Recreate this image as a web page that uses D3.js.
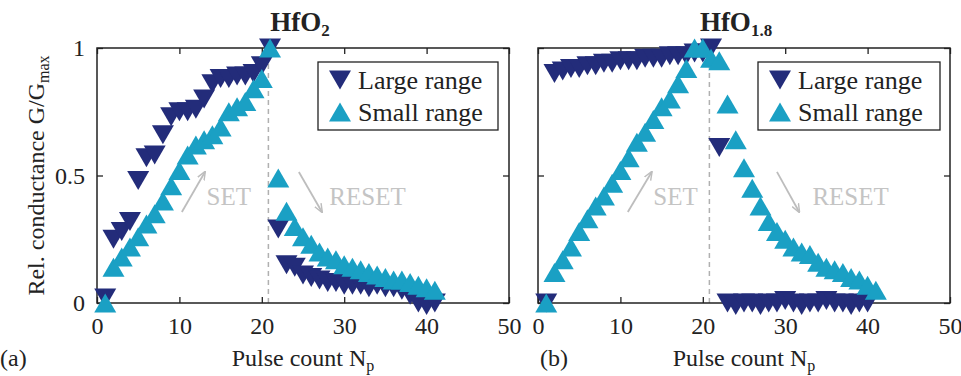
<!DOCTYPE html>
<html>
<head>
<meta charset="utf-8">
<script src="https://cdn.jsdelivr.net/npm/d3@7"></script>
<style>
  body { margin: 0; background: #fff; }
  svg { display: block; }
  text { font-family: "Liberation Serif", "Times New Roman", serif; }
</style>
</head>
<body>
<svg id="chart" width="961" height="376"></svg>
<script>
// ---------------- DATA ----------------
const xTicks = [0, 10, 20, 30, 40, 50];
const yTicks = [0, 0.5, 1];
const yTickLabels = ["0", "0.5", "1"];
const seriesNames = ["Large range", "Small range"];
const panelTitles = ["HfO2", "HfO1.8"];
const panelLetters = ["(a)", "(b)"];

// HfO2, pulse 1..41
const hfo2Large = [0.02, 0.25, 0.28, 0.32, 0.48, 0.57, 0.58, 0.66, 0.73, 0.75, 0.75, 0.76, 0.80, 0.86, 0.88, 0.88, 0.89, 0.89, 0.90, 0.93, 1.00,
                   0.29, 0.15, 0.14, 0.11, 0.10, 0.09, 0.08, 0.08, 0.07, 0.07, 0.07, 0.06, 0.07, 0.06, 0.06, 0.05, 0.03, 0.00, -0.01, 0.00];
const hfo2Small = [0.00, 0.14, 0.18, 0.22, 0.26, 0.31, 0.35, 0.40, 0.46, 0.52, 0.58, 0.62, 0.64, 0.66, 0.69, 0.75, 0.77, 0.79, 0.84, 0.88, 1.00,
                   0.49, 0.36, 0.30, 0.26, 0.23, 0.20, 0.18, 0.17, 0.15, 0.14, 0.13, 0.12, 0.11, 0.10, 0.09, 0.09, 0.08, 0.07, 0.06, 0.05];
// HfO1.8, pulse 1..40 (large) and 1..41 (small)
const hfo18Large = [0.00, 0.90, 0.91, 0.92, 0.92, 0.93, 0.93, 0.94, 0.94, 0.95, 0.95, 0.95, 0.96, 0.96, 0.96, 0.97, 0.97, 0.97, 0.98, 0.98, 1.00,
                    0.61, 0.00, -0.01, 0.00, 0.00, -0.01, 0.00, 0.00, 0.01, 0.00, -0.01, 0.00, 0.00, 0.01, 0.00, 0.00, -0.01, 0.00, 0.00];
const hfo18Small = [0.00, 0.12, 0.17, 0.22, 0.28, 0.33, 0.38, 0.42, 0.47, 0.52, 0.57, 0.63, 0.67, 0.72, 0.77, 0.80, 0.86, 0.92, 1.00, 1.00, 0.96,
                    0.95, 0.78, 0.64, 0.53, 0.45, 0.38, 0.32, 0.28, 0.25, 0.22, 0.20, 0.19, 0.16, 0.14, 0.13, 0.12, 0.10, 0.09, 0.07, 0.05];

const switchPulse = 20.8;           // dashed line
// annotation arrows [x1,y1,x2,y2] in data units, text anchor [x,y]
const setArrows   = [[10.3, 0.357, 13.1, 0.514], [10.9, 0.357, 13.8, 0.514]];
const resetArrows = [[24.5, 0.514, 27.3, 0.357], [29.0, 0.514, 31.7, 0.357]];
const setText     = [[13.3, 0.384], [14.0, 0.384]];
const resetText   = [[28.2, 0.384], [33.3, 0.384]];

// ---------------- STYLE / LAYOUT ----------------
const navy = "#232c7a";
const teal = "#1aa0c4";
const grey = "#bdbdbd";
const panels = [
  { left: 97, right: 509, large: hfo2Large, small: hfo2Small, titleX: 300, legendX: 318, legendW: 180, letterX: 0, showYLabels: true },
  { left: 538, right: 950, large: hfo18Large, small: hfo18Small, titleX: 736, legendX: 758, legendW: 182, letterX: 540, showYLabels: false }
];
const plotTop = 48, plotBottom = 303;

const svg = d3.select("#chart");
svg.append("rect").attr("width", 961).attr("height", 376).attr("fill", "#fff");

const defs = svg.append("defs");
defs.append("marker").attr("id", "ah").attr("viewBox", "0 0 10 10").attr("refX", 9).attr("refY", 5)
  .attr("markerWidth", 5).attr("markerHeight", 5).attr("orient", "auto")
  .append("path").attr("d", "M0,1 L10,5 L0,9").attr("fill", "none").attr("stroke", grey).attr("stroke-width", 1.6);

const W = 22, H = 19;
const downTri = `M${-W/2},${-H/2}L${W/2},${-H/2}L0,${H/2}Z`;
const upTri = `M${-W/2},${H/2}L${W/2},${H/2}L0,${-H/2}Z`;

const y = d3.scaleLinear().domain([0, 1]).range([plotBottom, plotTop]);

panels.forEach((p, pi) => {
  const x = d3.scaleLinear().domain([0, 50]).range([p.left, p.right]);
  const g = svg.append("g");

  // dashed line
  g.append("line").attr("x1", x(switchPulse)).attr("x2", x(switchPulse))
    .attr("y1", y(0)).attr("y2", y(1))
    .attr("stroke", "#b0b0b0").attr("stroke-width", 1.5).attr("stroke-dasharray", "5,4");

  // arrows and texts
  const sa = setArrows[pi], ra = resetArrows[pi];
  [sa, ra].forEach(a => {
    g.append("line").attr("x1", x(a[0])).attr("y1", y(a[1])).attr("x2", x(a[2])).attr("y2", y(a[3]))
      .attr("stroke", grey).attr("stroke-width", 1.8).attr("marker-end", "url(#ah)");
  });
  g.append("text").attr("x", x(setText[pi][0])).attr("y", y(setText[pi][1]))
    .attr("font-size", 25).attr("fill", "#c4c4c4").text("SET");
  g.append("text").attr("x", x(resetText[pi][0])).attr("y", y(resetText[pi][1]))
    .attr("font-size", 25).attr("fill", "#c4c4c4").text("RESET");

  // axes
  const ax = g.append("g").attr("transform", `translate(0,${plotBottom})`)
    .call(d3.axisBottom(x).tickValues(xTicks).tickFormat(d3.format("d")).tickSizeInner(-6).tickSizeOuter(0).tickPadding(14));
  const axT = g.append("g").attr("transform", `translate(0,${plotTop})`)
    .call(d3.axisTop(x).tickValues(xTicks).tickFormat("").tickSizeInner(-6).tickSizeOuter(0));
  const ay = g.append("g").attr("transform", `translate(${p.left},0)`)
    .call(d3.axisLeft(y).tickValues(yTicks).tickFormat((d, i) => p.showYLabels ? yTickLabels[i] : "").tickSizeInner(-6).tickSizeOuter(0).tickPadding(12));
  const ayR = g.append("g").attr("transform", `translate(${p.right},0)`)
    .call(d3.axisRight(y).tickValues(yTicks).tickFormat("").tickSizeInner(-6).tickSizeOuter(0));
  [ax, axT, ay, ayR].forEach(a => {
    a.select(".domain").remove();
    a.selectAll("line").attr("stroke", "#222").attr("stroke-width", 1.3);
    a.selectAll("text").attr("font-size", 24).attr("fill", "#222").attr("font-family", "Liberation Serif");
  });

  // frame
  g.append("rect").attr("x", p.left).attr("y", plotTop).attr("width", p.right - p.left).attr("height", plotBottom - plotTop)
    .attr("fill", "none").attr("stroke", "#222").attr("stroke-width", 1.5);

  // data markers
  g.append("g").selectAll("path").data(p.large).join("path")
    .attr("d", downTri).attr("fill", navy)
    .attr("transform", (d, i) => `translate(${x(i + 1)},${y(d)})`);
  g.append("g").selectAll("path").data(p.small).join("path")
    .attr("d", upTri).attr("fill", teal)
    .attr("transform", (d, i) => `translate(${x(i + 1)},${y(d)})`);

  // legend
  const lg = g.append("g").attr("transform", `translate(${p.legendX},62)`);
  lg.append("rect").attr("width", p.legendW).attr("height", 68).attr("fill", "#fff")
    .attr("stroke", "#222").attr("stroke-width", 1.3);
  [[downTri, navy], [upTri, teal]].forEach((m, i) => {
    lg.append("path").attr("d", m[0]).attr("fill", m[1]).attr("transform", `translate(22,${18 + i * 32})`);
    lg.append("text").attr("x", 40).attr("y", 18 + i * 32).attr("dy", "0.35em")
      .attr("font-size", 26).attr("fill", "#222").text(seriesNames[i]);
  });

  // title
  const t = g.append("text").attr("x", p.titleX).attr("y", 31).attr("text-anchor", "middle")
    .attr("font-size", 27).attr("font-weight", "bold").attr("fill", "#222");
  t.append("tspan").text(panelTitles[pi].slice(0, 3));
  t.append("tspan").attr("font-size", 17).attr("dy", 5).text(panelTitles[pi].slice(3));

  // x label
  const xl = g.append("text").attr("x", (p.left + p.right) / 2).attr("y", 366).attr("text-anchor", "middle")
    .attr("font-size", 24).attr("fill", "#222");
  xl.append("tspan").text("Pulse count N");
  xl.append("tspan").attr("font-size", 16).attr("dy", 5).text("p");

  // letter
  g.append("text").attr("x", p.letterX).attr("y", 366).attr("font-size", 24).attr("fill", "#222").text(panelLetters[pi]);
});

// y label
const yl = svg.append("text").attr("transform", `translate(44,${(plotTop + plotBottom) / 2}) rotate(-90)`)
  .attr("text-anchor", "middle").attr("font-size", 24).attr("fill", "#222");
yl.append("tspan").text("Rel. conductance G/G");
yl.append("tspan").attr("font-size", 16).attr("dy", 5).text("max");
</script>
</body>
</html>
